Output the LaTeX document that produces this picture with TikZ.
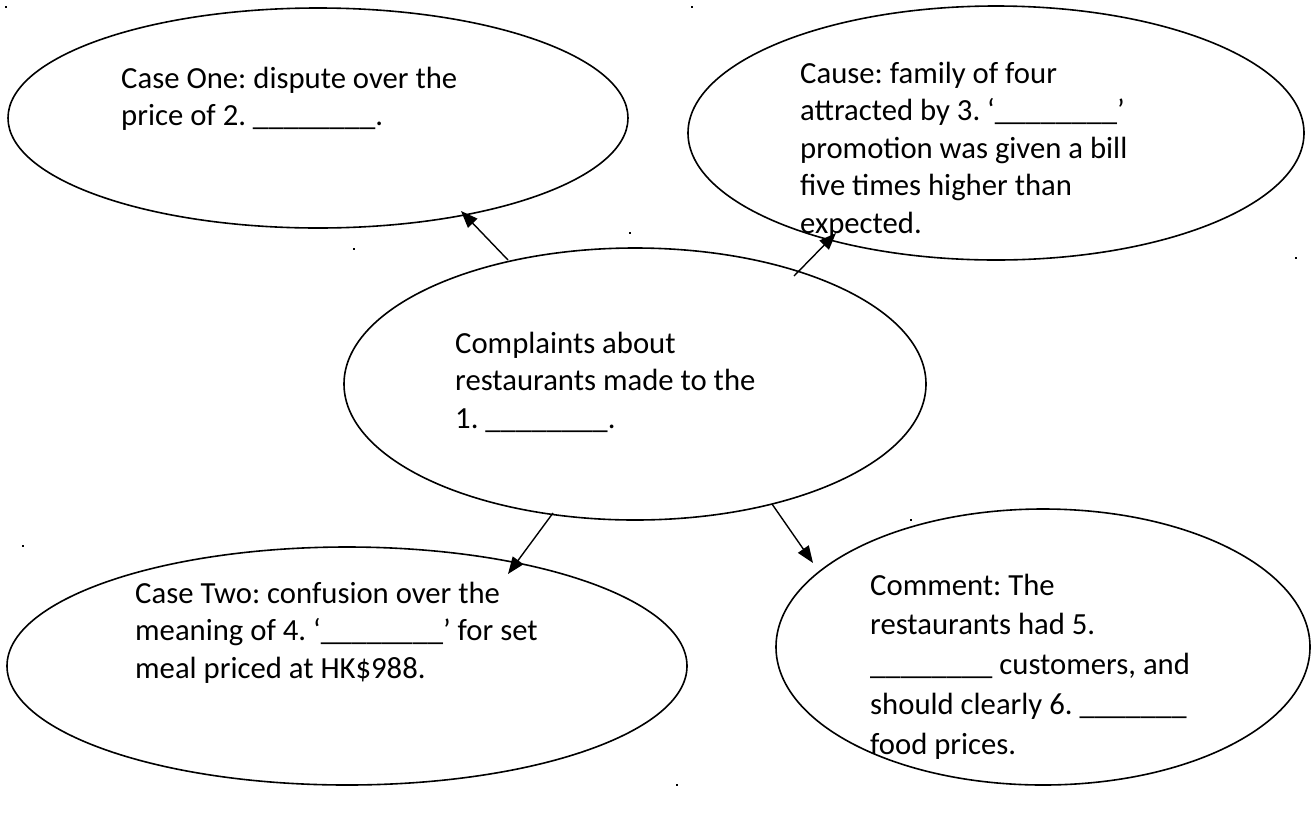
\documentclass[tikz,border=0pt]{standalone}
\usepackage{fontspec}
\setmainfont{Carlito}
\usetikzlibrary{shapes.geometric,arrows.meta}
\frenchspacing
\tikzset{
  bubble/.style={draw, line width=1.6pt, ellipse, inner sep=0pt},
  txt/.style={anchor=base west, align=left, inner sep=0pt,
    font=\fontsize{30.7}{37.5}\selectfont},
  widetxt/.style={txt, font=\fontsize{30.7}{39.7}\selectfont},
  link/.style={line width=1.4pt, -{Triangle[length=17pt,width=13pt]}},
  speck/.style={fill=black, inner sep=0pt, minimum size=2.2pt, rectangle}
}
\newcommand{\blank}{\_\_\_\_\_\_\_\_}
\begin{document}
\begin{tikzpicture}[x=1pt,y=-1pt]
\useasboundingbox (0,0) rectangle (1312,823);
% ellipses
\node[bubble, minimum width=620pt, minimum height=220pt] (caseone) at (318,118) {};
\node[bubble, minimum width=616pt, minimum height=254pt] (cause) at (996,133) {};
\node[bubble, minimum width=582pt, minimum height=272pt] (main) at (635,384) {};
\node[bubble, minimum width=680pt, minimum height=238pt] (casetwo) at (347,666) {};
\node[bubble, minimum width=534pt, minimum height=276pt] (comment) at (1043,647) {};
% texts (anchor = baseline of last line)
\node[txt] (t1) at (121,125.5) {Case One: dispute over the\\price of 2. \blank.};
\node[txt] (t2) at (800,233) {Cause: family of four\\attracted by 3. `\blank'\\promotion was given a bill\\five times higher than\\expected.};
\node[txt] (t3) at (455,428) {Complaints about\\restaurants made to the\\1. \blank.};
\node[txt] (t4) at (135,678) {Case Two: confusion over the\\meaning of 4. `\blank' for set\\meal priced at HK\$988.};
\node[widetxt] (t5) at (870,754) {Comment: The\\restaurants had 5.\\\blank\ customers, and\\should clearly 6. \_\_\_\_\_\_\_\\food prices.};
% arrow ends
\coordinate (a1s) at (508,260); \coordinate (a1e) at (461,211);
\coordinate (a2s) at (794,276); \coordinate (a2e) at (836,233);
\coordinate (a3s) at (553,513); \coordinate (a3e) at (508,574);
\coordinate (a4s) at (772,504); \coordinate (a4e) at (813,563);
\draw[link] (a1s) -- (a1e);
\draw[link] (a2s) -- (a2e);
\draw[link] (a3s) -- (a3e);
\draw[link] (a4s) -- (a4e);
% stray specks
\node[speck] (d1) at (6,7) {};
\node[speck] (d2) at (692,7) {};
\node[speck] (d3) at (354,249) {};
\node[speck] (d4) at (630,233) {};
\node[speck] (d5) at (1296,258) {};
\node[speck] (d6) at (23,546) {};
\node[speck] (d7) at (911,520) {};
\node[speck] (d8) at (677,785) {};
\end{tikzpicture}
\end{document}
